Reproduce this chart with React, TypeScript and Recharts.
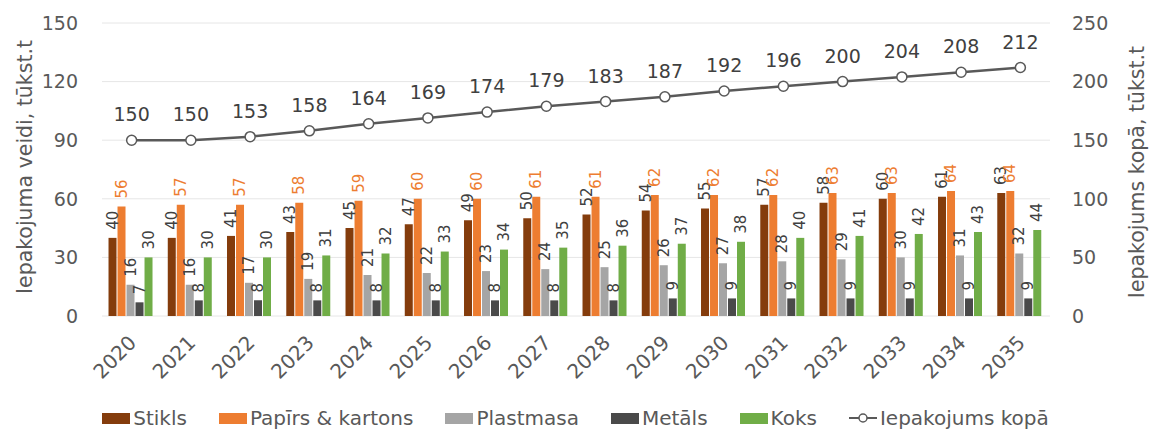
import { ComposedChart, Bar, Line, XAxis, YAxis, CartesianGrid, Legend, LabelList } from 'recharts';

const YEARS = ['2020', '2021', '2022', '2023', '2024', '2025', '2026', '2027', '2028', '2029', '2030', '2031', '2032', '2033', '2034', '2035'];
const STIKLS = [40, 40, 41, 43, 45, 47, 49, 50, 52, 54, 55, 57, 58, 60, 61, 63];
const PAPIRS = [56, 57, 57, 58, 59, 60, 60, 61, 61, 62, 62, 62, 63, 63, 64, 64];
const PLASTMASA = [16, 16, 17, 19, 21, 22, 23, 24, 25, 26, 27, 28, 29, 30, 31, 32];
const METALS = [7, 8, 8, 8, 8, 8, 8, 8, 8, 9, 9, 9, 9, 9, 9, 9];
const KOKS = [30, 30, 30, 31, 32, 33, 34, 35, 36, 37, 38, 40, 41, 42, 43, 44];
const KOPA = [150, 150, 153, 158, 164, 169, 174, 179, 183, 187, 192, 196, 200, 204, 208, 212];

const LEFT_TICKS = [0, 30, 60, 90, 120, 150];
const RIGHT_TICKS = [0, 50, 100, 150, 200, 250];

const FONT = '"DejaVu Sans", sans-serif';
const AXIS_GRAY = '#595959';
const LABEL_GRAY = '#404040';

const SERIES = [
  { key: 'stikls', name: 'Stikls', color: '#843C0C', label: LABEL_GRAY },
  { key: 'papirs', name: 'Papīrs & kartons', color: '#ED7D31', label: '#ED7D31' },
  { key: 'plastmasa', name: 'Plastmasa', color: '#A5A5A5', label: LABEL_GRAY },
  { key: 'metals', name: 'Metāls', color: '#4A4A4A', label: LABEL_GRAY },
  { key: 'koks', name: 'Koks', color: '#70AD47', label: LABEL_GRAY },
];

const data = YEARS.map((year, i) => ({
  year,
  stikls: STIKLS[i],
  papirs: PAPIRS[i],
  plastmasa: PLASTMASA[i],
  metals: METALS[i],
  koks: KOKS[i],
  kopa: KOPA[i],
}));

function barLabel(color: string) {
  return (props: any) => {
    const { x, y, width, value } = props;
    const cx = Number(x) + Number(width) / 2;
    const ty = Number(y) - 8;
    return (
      <text
        x={cx}
        y={ty}
        transform={`rotate(-90, ${cx}, ${ty})`}
        textAnchor="start"
        dominantBaseline="central"
        fontSize={15}
        fontFamily={FONT}
        fill={color}
      >
        {value}
      </text>
    );
  };
}

function lineLabel(props: any) {
  const { x, y, value } = props;
  return (
    <text x={x} y={Number(y) - 19} textAnchor="middle" fontSize={19} fontFamily={FONT} fill={LABEL_GRAY}>
      {value}
    </text>
  );
}

function YearTick(props: any) {
  const { x, y, payload } = props;
  const tx = Number(x) + 6;
  const ty = Number(y) + 26;
  return (
    <text
      x={tx}
      y={ty}
      transform={`rotate(-45, ${tx}, ${ty})`}
      textAnchor="end"
      fontSize={20}
      fontFamily={FONT}
      fill={AXIS_GRAY}
    >
      {payload.value}
    </text>
  );
}

function LegendContent() {
  return (
    <div
      style={{
        display: 'flex',
        justifyContent: 'center',
        alignItems: 'center',
        gap: 32,
        fontFamily: FONT,
        fontSize: 20,
        color: AXIS_GRAY,
      }}
    >
      {SERIES.map((s) => (
        <div key={s.key} style={{ display: 'flex', alignItems: 'center' }}>
          <span style={{ width: 28, height: 11, background: s.color, marginRight: 3 }} />
          <span>{s.name}</span>
        </div>
      ))}
      <div style={{ display: 'flex', alignItems: 'center' }}>
        <svg width={28} height={12} style={{ marginRight: 3 }}>
          <line x1={0} y1={6} x2={28} y2={6} stroke={AXIS_GRAY} strokeWidth={2} />
          <circle cx={14} cy={6} r={4} fill="#fff" stroke={AXIS_GRAY} strokeWidth={1.5} />
        </svg>
        <span>Iepakojums kopā</span>
      </div>
    </div>
  );
}

export default function App() {
  return (
    <div style={{ position: 'absolute', left: 0, top: 0, width: 1151, height: 433, background: '#fff' }}>
      <ComposedChart
        width={1151}
        height={433}
        data={data}
        margin={{ top: 23, right: 0, bottom: 0, left: 0 }}
        barCategoryGap="11%"
        barGap={1}
      >
        <CartesianGrid yAxisId="left" vertical={false} stroke="#E6E6E6" />
        <XAxis
          dataKey="year"
          height={117}
          axisLine={false}
          tickLine={false}
          tickSize={0}
          tick={<YearTick />}
          interval={0}
        />
        <YAxis
          yAxisId="left"
          width={102}
          domain={[0, 150]}
          ticks={LEFT_TICKS}
          axisLine={false}
          tickLine={false}
          tickSize={0}
          tickMargin={24}
          tick={{ fill: AXIS_GRAY, fontSize: 19, fontFamily: FONT }}
          label={{
            content: () => (
              <text
                x={25}
                y={167}
                transform="rotate(-90, 25, 167)"
                textAnchor="middle"
                dominantBaseline="central"
                fontSize={20.5}
                fontFamily={FONT}
                fill={AXIS_GRAY}
              >
                Iepakojuma veidi, tūkst.t
              </text>
            ),
          }}
        />
        <YAxis
          yAxisId="right"
          orientation="right"
          width={101}
          domain={[0, 250]}
          ticks={RIGHT_TICKS}
          axisLine={false}
          tickLine={false}
          tickSize={0}
          tickMargin={22}
          tick={{ fill: AXIS_GRAY, fontSize: 19, fontFamily: FONT, textAnchor: 'start' }}
          label={{
            content: () => (
              <text
                x={1137}
                y={172}
                transform="rotate(-90, 1137, 172)"
                textAnchor="middle"
                dominantBaseline="central"
                fontSize={20.5}
                fontFamily={FONT}
                fill={AXIS_GRAY}
              >
                Iepakojums kopā, tūkst.t
              </text>
            ),
          }}
        />
        {SERIES.map((s) => (
          <Bar key={s.key} yAxisId="left" dataKey={s.key} name={s.name} fill={s.color} isAnimationActive={false}>
            <LabelList dataKey={s.key} content={barLabel(s.label)} />
          </Bar>
        ))}
        <Line
          yAxisId="right"
          dataKey="kopa"
          name="Iepakojums kopā"
          stroke={AXIS_GRAY}
          strokeWidth={2.5}
          dot={{ r: 5, fill: '#fff', stroke: AXIS_GRAY, strokeWidth: 1.5 }}
          isAnimationActive={false}
        >
          <LabelList dataKey="kopa" content={lineLabel} />
        </Line>
        <Legend
          layout="horizontal"
          verticalAlign="middle"
          align="center"
          content={<LegendContent />}
          wrapperStyle={{ top: 406, left: 0, width: 1151 }}
        />
      </ComposedChart>
    </div>
  );
}
